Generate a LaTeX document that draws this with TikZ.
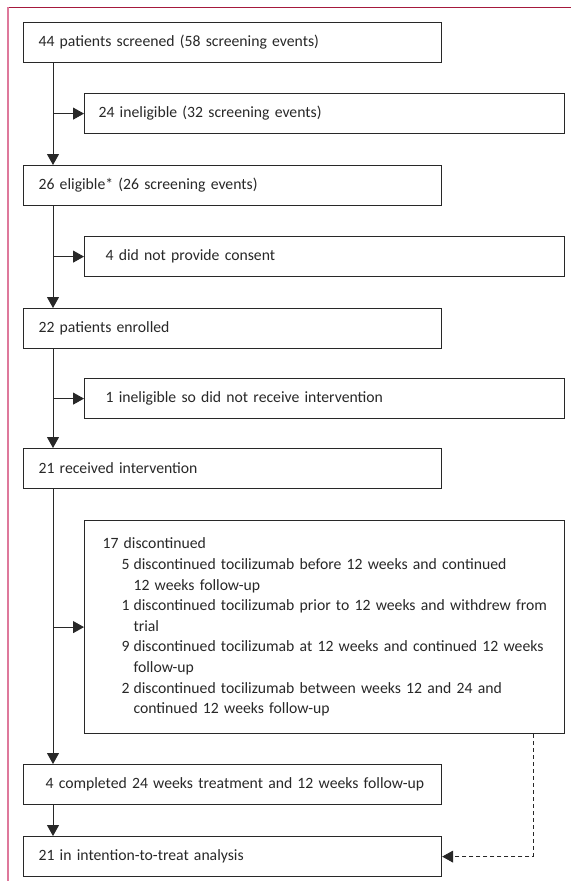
\documentclass[tikz,border=0pt]{standalone}
\usepackage{fontspec}
\setmainfont{Carlito}
\usetikzlibrary{arrows.meta}
\definecolor{framered}{RGB}{165,25,60}
\definecolor{framepink}{RGB}{222,120,155}
\definecolor{boxline}{RGB}{40,40,40}
\definecolor{txt}{RGB}{40,40,40}
\newcommand{\flowsubitem}[1]{\hspace*{19pt}\makebox[12pt][l]{#1}}
\newcommand{\flowcont}{\hspace*{31pt}}
\begin{document}
\begin{tikzpicture}[x=1pt,y=-1pt,
  basebox/.style={draw=boxline,line width=1.2pt,rectangle,anchor=north west,align=left,
    inner ysep=0pt,minimum height=40pt,text=txt,font=\fontsize{15.7}{20.6}\selectfont},
  mainbox/.style={basebox,inner xsep=15pt,text width=388pt},
  sidebox/.style={basebox,inner xsep=14pt,text width=452pt},
  conn/.style={draw=boxline,line width=1pt,-{Triangle[length=11pt,width=12pt]}},
  dashconn/.style={conn,line width=0.8pt,dash pattern=on 4pt off 3pt}]
\useasboundingbox (0,0) rectangle (571,886);
\fill[white] (0,0) rectangle (571,886);
\draw[framered,line width=1pt] (8,7) -- (571,7);
\draw[framepink,line width=1.6pt] (8,7) -- (8,881);

\coordinate (spine) at (53,0);
\coordinate (dashx) at (533,0);

\node[mainbox] (b1) at (23,22) {44 patients screened (58 screening events)};
\node[sidebox] (b2) at (84,93) {24 ineligible (32 screening events)};
\node[mainbox] (b3) at (23,165) {26 eligible* (26 screening events)};
\node[sidebox] (b4) at (84,236) {\hspace*{7pt}4 did not provide consent};
\node[mainbox] (b5) at (23,308) {22 patients enrolled};
\node[sidebox] (b6) at (84,378) {\hspace*{7pt}1 ineligible so did not receive intervention};
\node[mainbox] (b7) at (23,448) {21 received intervention};
\node[sidebox,inner xsep=18pt,text width=444pt,minimum height=213pt] (b8) at (84,520) {17 discontinued\\
\flowsubitem{5}\mbox{discontinued tocilizumab before 12 weeks and continued}\\
\flowcont 12 weeks follow-up\\
\flowsubitem{1}\mbox{discontinued tocilizumab prior to 12 weeks and withdrew from}\\
\flowcont trial\\
\flowsubitem{9}\mbox{discontinued tocilizumab at 12 weeks and continued 12 weeks}\\
\flowcont follow-up\\
\flowsubitem{2}\mbox{discontinued tocilizumab between weeks 12 and 24 and}\\
\flowcont continued 12 weeks follow-up\\[14pt]};
\node[mainbox] (b9) at (23,764) {\hspace*{7pt}\mbox{4 completed 24 weeks treatment and 12 weeks follow-up}};
\node[mainbox] (b10) at (23,836) {21 in intention-to-treat analysis};

\draw[conn] (b1.south -| spine) -- (b3.north -| spine);
\draw[conn] (spine |- b2.west) -- (b2.west);
\draw[conn] (b3.south -| spine) -- (b5.north -| spine);
\draw[conn] (spine |- b4.west) -- (b4.west);
\draw[conn] (b5.south -| spine) -- (b7.north -| spine);
\draw[conn] (spine |- b6.west) -- (b6.west);
\draw[conn] (b7.south -| spine) -- (b9.north -| spine);
\draw[conn] (spine |- b8.west) -- (b8.west);
\draw[conn] (b9.south -| spine) -- (b10.north -| spine);
\draw[dashconn] (b8.south -| dashx) |- (b10.east);
\end{tikzpicture}
\end{document}
